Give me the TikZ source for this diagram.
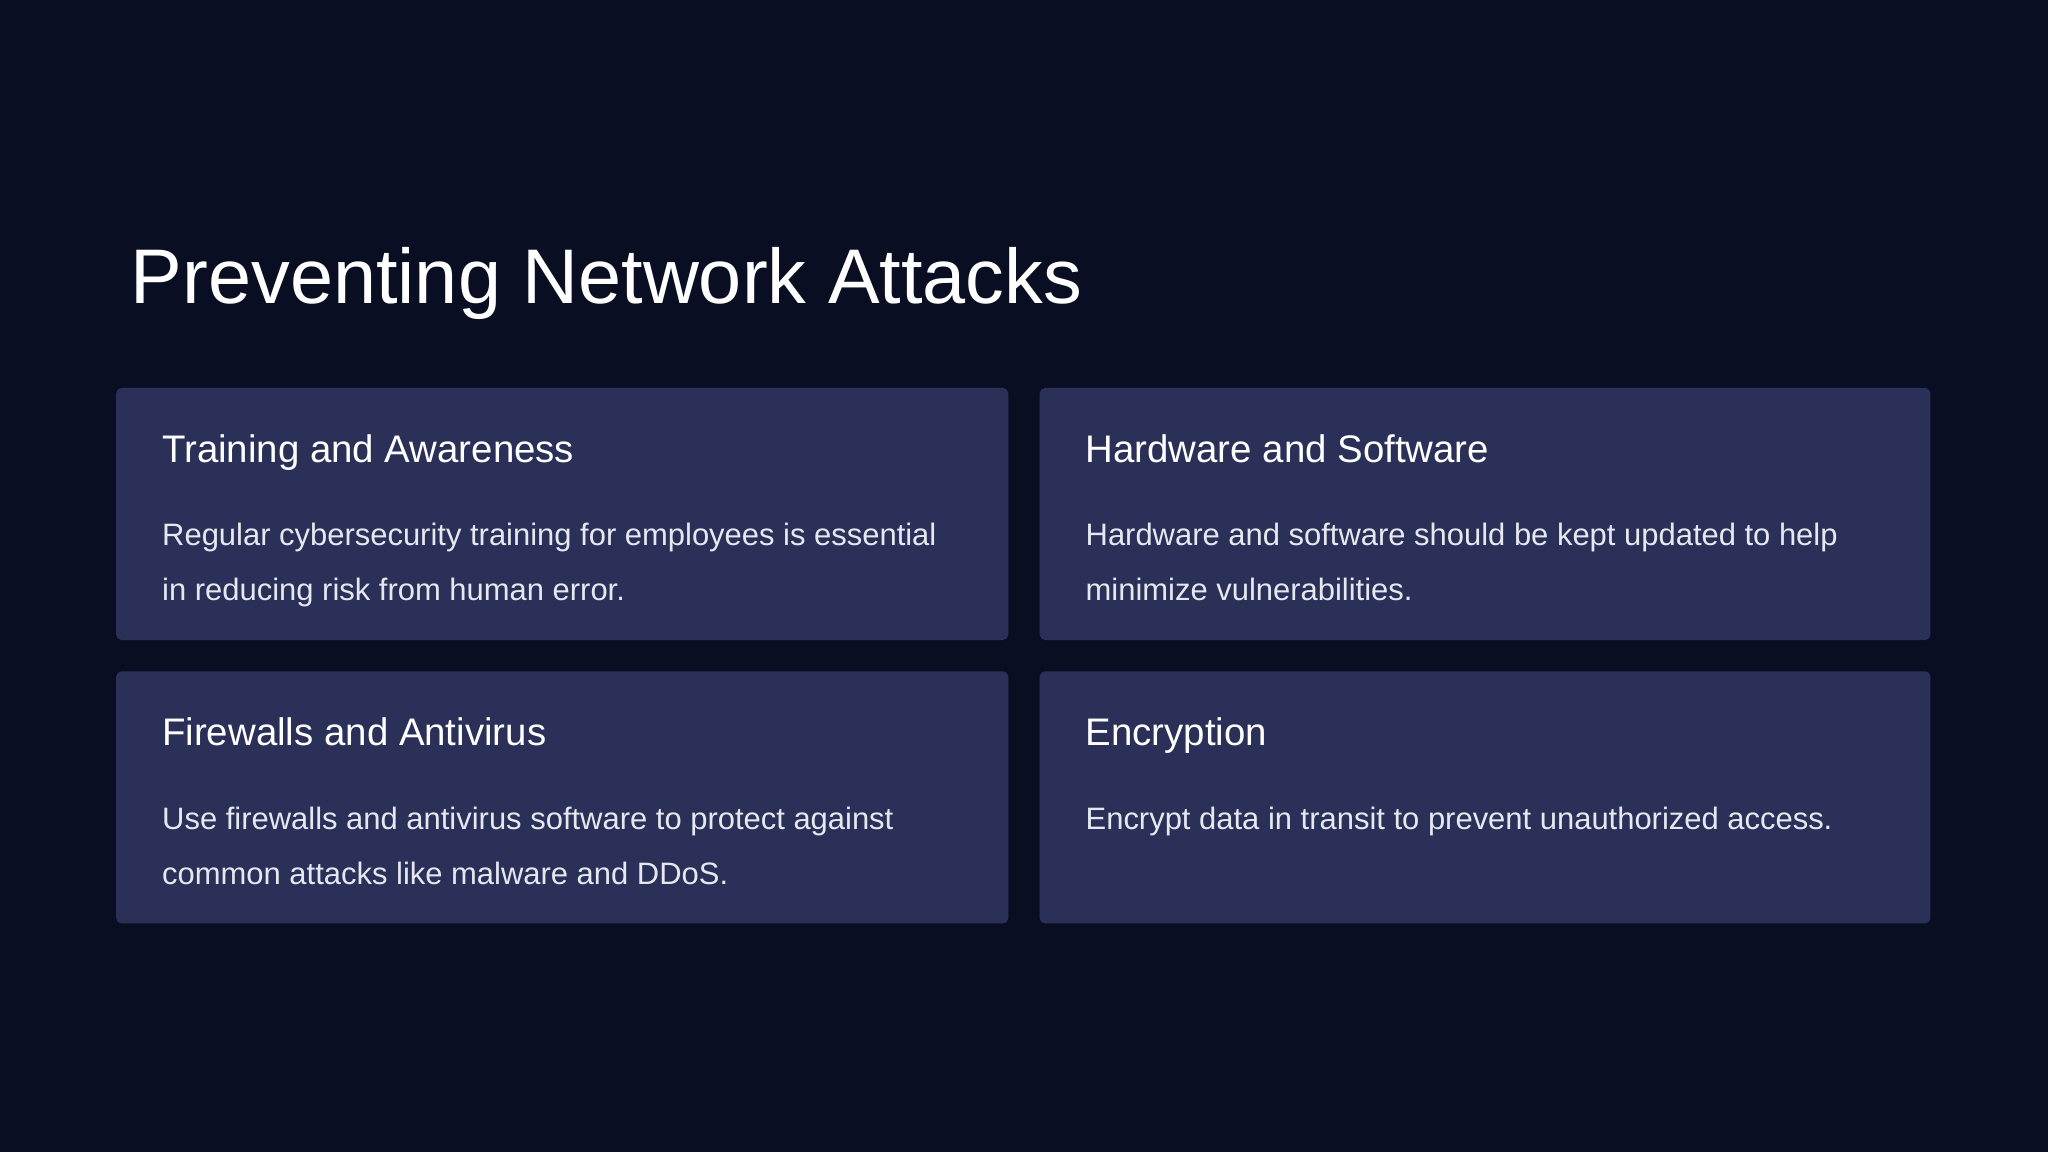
\documentclass[tikz,border=0pt]{standalone}
\usepackage{fontspec}
\setmainfont{Liberation Sans}
\definecolor{bg}{HTML}{0A0E22}
\definecolor{card}{HTML}{2A3058}
\definecolor{txt}{HTML}{E6E8F0}
\begin{document}
\begin{tikzpicture}[x=1pt,y=-1pt,
  cardbox/.style={fill=card,rounded corners=4pt,draw=none},
  head/.style={anchor=base west,text=white,font=\fontsize{29.4}{34}\selectfont,inner sep=0},
  body/.style={anchor=base west,text=txt,font=\fontsize{23.7}{28}\selectfont,inner sep=0}]
\fill[bg] (0,0) rectangle (1568,882);
\useasboundingbox (0,0) rectangle (1568,882);
\node[anchor=base west,text=white,inner sep=0,font=\fontsize{59.3}{70}\selectfont] (title) at (100,232) {Preventing Network Attacks};
\fill[cardbox] (89,297) rectangle (772,490);
\fill[cardbox] (796,297) rectangle (1478,490);
\fill[cardbox] (89,514) rectangle (772,707);
\fill[cardbox] (796,514) rectangle (1478,707);
\node[head] (h1) at (124,354) {Training and Awareness};
\node[body] (b1) at (124,418) {Regular cybersecurity training for employees is essential};
\node[body] (b1b) at (124,460) {in reducing risk from human error.};
\node[head] (h2) at (831,354) {Hardware and Software};
\node[body] (b2) at (831,418) {Hardware and software should be kept updated to help};
\node[body] (b2b) at (831,460) {minimize vulnerabilities.};
\node[head] (h3) at (124,571) {Firewalls and Antivirus};
\node[body] (b3) at (124,635) {Use firewalls and antivirus software to protect against};
\node[body] (b3b) at (124,677) {common attacks like malware and DDoS.};
\node[head] (h4) at (831,571) {Encryption};
\node[body] (b4) at (831,635) {Encrypt data in transit to prevent unauthorized access.};
\end{tikzpicture}
\end{document}
